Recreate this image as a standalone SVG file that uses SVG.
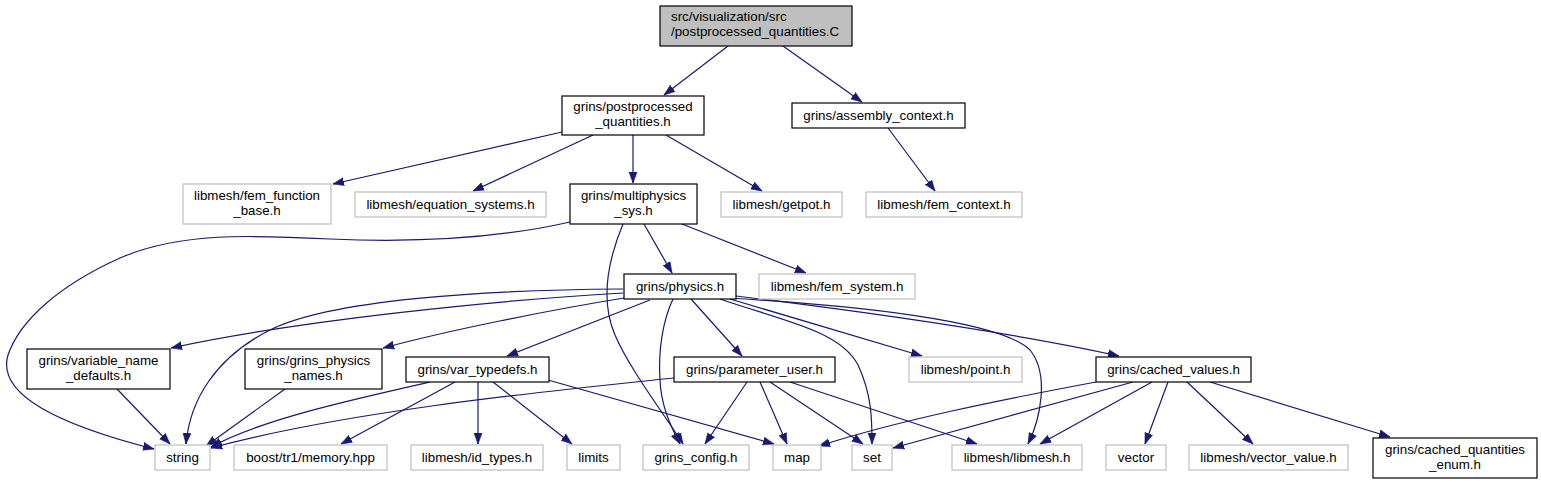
<svg xmlns="http://www.w3.org/2000/svg" width="1541" height="484" viewBox="0 0 1541 484">
<style>
.n rect{fill:#fff;stroke:#000;stroke-width:1.2}
.g rect{fill:#fff;stroke:#bfbfbf;stroke-width:1.2}
.r rect{fill:#bfbfbf;stroke:#000;stroke-width:1.2}
text{font-family:"Liberation Sans",Arial,sans-serif;font-size:13.33px;fill:#000;text-anchor:middle}
#edges path{fill:none;stroke:#191970;stroke-width:1.2;marker-end:url(#a)}
</style>
<defs>
<marker id="a" markerWidth="12" markerHeight="10" refX="11" refY="4.5" orient="auto" markerUnits="userSpaceOnUse">
<path d="M0,0.5 L11,4.5 L0,8.5 z" fill="#191970" stroke="#191970" stroke-width="0.6"/>
</marker>
</defs>
<rect width="1541" height="484" fill="#fff"/>
<g id="edges">
<path d="M728,46 L664,95"/>
<path d="M783,46 L862,102"/>
<path d="M562,132 L333,184"/>
<path d="M593,135 L473,191"/>
<path d="M633,135 L633,183"/>
<path d="M666,135 L762,191"/>
<path d="M888,128 L935,191"/>
<path d="M570,222 C500,238 420,243 330,239 C250,235 180,232 120,258 C60,285 20,320 8,355 C-4,395 60,425 154,449"/>
<path d="M623,224 C608,260 600,300 615,335 C630,370 665,415 683,444"/>
<path d="M644,224 L672,273"/>
<path d="M682,224 L806,273"/>
<path d="M623,289 C480,290 330,300 270,330 C215,358 190,400 186,444"/>
<path d="M623,293 C500,300 300,320 171,348"/>
<path d="M624,298 C550,310 450,330 383,348"/>
<path d="M650,300 L507,356"/>
<path d="M673,299 C663,320 658,350 660,380 C661,405 670,425 680,444"/>
<path d="M691,299 L742,356"/>
<path d="M720,299 C780,320 840,330 858,365 C872,395 872,420 872,444"/>
<path d="M730,299 L922,356"/>
<path d="M727,298 C850,305 1000,320 1030,350 C1050,375 1040,420 1028,444"/>
<path d="M736,296 C850,310 1000,330 1119,356"/>
<path d="M430,382 C350,400 260,420 211,447"/>
<path d="M455,382 L341,444"/>
<path d="M478,382 L478,444"/>
<path d="M493,382 L572,444"/>
<path d="M548,380 L774,444"/>
<path d="M674,378 C560,390 350,410 211,448"/>
<path d="M747,382 L705,444"/>
<path d="M760,382 L787,444"/>
<path d="M770,382 L863,444"/>
<path d="M790,382 L977,444"/>
<path d="M1096,382 C1000,400 900,420 819,446"/>
<path d="M1133,382 L893,448"/>
<path d="M1152,382 L1040,444"/>
<path d="M1168,382 L1145,444"/>
<path d="M1187,382 L1253,444"/>
<path d="M1210,382 L1390,437"/>
<path d="M117,389 L170,444"/>
<path d="M285,389 L206,446"/>
</g>
<g id="root" class="r"><rect x="660" y="6" width="192" height="40"/><text x="671" y="21" style="text-anchor:start">src/visualization/src</text><text x="671" y="36" style="text-anchor:start">/postprocessed_quantities.C</text></g>
<g id="pq" class="n"><rect x="562" y="96" width="142" height="39"/><text x="633" y="111">grins/postprocessed</text><text x="633" y="126">_quantities.h</text></g>
<g id="ac" class="n"><rect x="792" y="103" width="173" height="25"/><text x="878.5" y="120">grins/assembly_context.h</text></g>
<g id="ffb" class="g"><rect x="183" y="184" width="148" height="40"/><text x="257" y="200">libmesh/fem_function</text><text x="257" y="215">_base.h</text></g>
<g id="eqs" class="g"><rect x="355" y="192" width="191" height="25"/><text x="450.5" y="209">libmesh/equation_systems.h</text></g>
<g id="mps" class="n"><rect x="570" y="184" width="127" height="40"/><text x="633.5" y="200">grins/multiphysics</text><text x="633.5" y="215">_sys.h</text></g>
<g id="getpot" class="g"><rect x="721" y="192" width="121" height="25"/><text x="781.5" y="209">libmesh/getpot.h</text></g>
<g id="femctx" class="g"><rect x="866" y="192" width="156" height="25"/><text x="944" y="209">libmesh/fem_context.h</text></g>
<g id="physics" class="n"><rect x="624" y="274" width="112" height="25"/><text x="680" y="291">grins/physics.h</text></g>
<g id="femsys" class="g"><rect x="759" y="274" width="156" height="25"/><text x="837" y="291">libmesh/fem_system.h</text></g>
<g id="vnd" class="n"><rect x="27" y="349" width="143" height="40"/><text x="98.5" y="365">grins/variable_name</text><text x="98.5" y="380">_defaults.h</text></g>
<g id="gpn" class="n"><rect x="245" y="349" width="137" height="40"/><text x="313.5" y="365">grins/grins_physics</text><text x="313.5" y="380">_names.h</text></g>
<g id="vt" class="n"><rect x="406" y="357" width="143" height="25"/><text x="477.5" y="374">grins/var_typedefs.h</text></g>
<g id="pu" class="n"><rect x="674" y="357" width="161" height="25"/><text x="754.5" y="374">grins/parameter_user.h</text></g>
<g id="point" class="g"><rect x="909" y="357" width="113" height="25"/><text x="965.5" y="374">libmesh/point.h</text></g>
<g id="cv" class="n"><rect x="1096" y="357" width="155" height="25"/><text x="1173.5" y="374">grins/cached_values.h</text></g>
<g id="string" class="g"><rect x="155" y="445" width="55" height="25"/><text x="182.5" y="462">string</text></g>
<g id="boost" class="g"><rect x="234" y="445" width="153" height="25"/><text x="310.5" y="462">boost/tr1/memory.hpp</text></g>
<g id="idtypes" class="g"><rect x="411" y="445" width="132" height="25"/><text x="477" y="462">libmesh/id_types.h</text></g>
<g id="limits" class="g"><rect x="567" y="445" width="53" height="25"/><text x="593.5" y="462">limits</text></g>
<g id="gc" class="g"><rect x="643" y="445" width="106" height="25"/><text x="696" y="462">grins_config.h</text></g>
<g id="map" class="g"><rect x="773" y="445" width="48" height="25"/><text x="797" y="462">map</text></g>
<g id="set" class="g"><rect x="852" y="445" width="40" height="25"/><text x="872" y="462">set</text></g>
<g id="libmesh" class="g"><rect x="952" y="445" width="130" height="25"/><text x="1017" y="462">libmesh/libmesh.h</text></g>
<g id="vector" class="g"><rect x="1106" y="445" width="60" height="25"/><text x="1136" y="462">vector</text></g>
<g id="vv" class="g"><rect x="1189" y="445" width="159" height="25"/><text x="1268.5" y="462">libmesh/vector_value.h</text></g>
<g id="cqe" class="n"><rect x="1373" y="438" width="164" height="40"/><text x="1455" y="454">grins/cached_quantities</text><text x="1455" y="469">_enum.h</text></g>
</svg>
